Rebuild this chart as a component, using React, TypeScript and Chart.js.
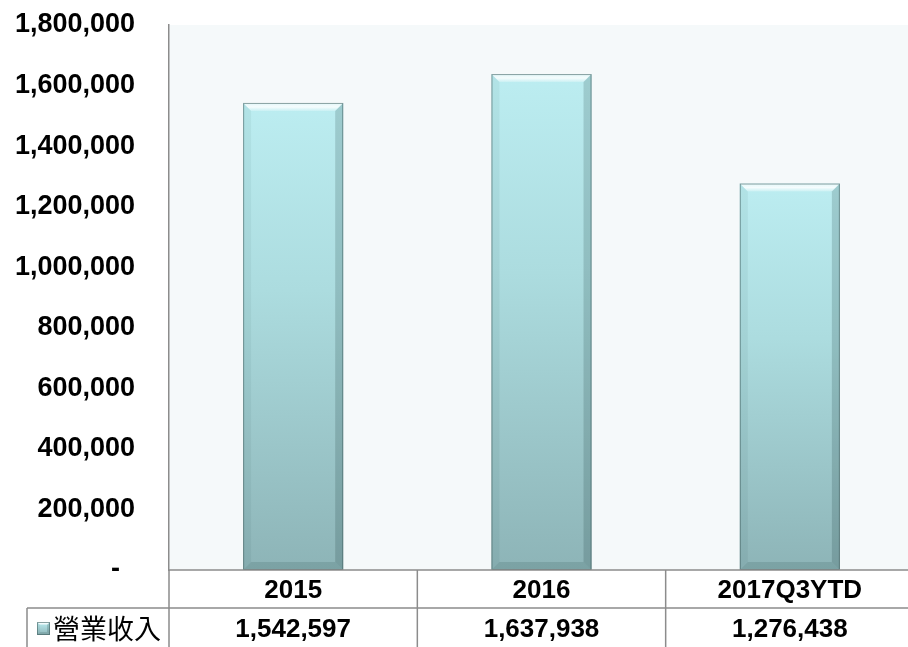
import React, { useEffect, useRef } from "react";
import { Chart, registerables } from "chart.js";

Chart.register(...registerables);

const categories = ["2015", "2016", "2017Q3YTD"];
const seriesName = "營業收入";
const revenue = [1542597, 1637938, 1276438];
const yTicks = [0, 200000, 400000, 600000, 800000, 1000000, 1200000, 1400000, 1600000, 1800000];

const fmt = (v: number) => (v === 0 ? "-  " : v.toLocaleString("en-US"));

const LINE = "#8c8c8c";
const LATIN = "'Liberation Sans', Arial, sans-serif";
const CJK = "'Noto Sans CJK TC', 'Noto Sans CJK SC', sans-serif";

function bevel(ctx: CanvasRenderingContext2D, l: number, t: number, r: number, b: number, e: number) {
  ctx.save();
  const tg = ctx.createLinearGradient(0, t, 0, t + e);
  tg.addColorStop(0, "rgba(255,255,255,0.55)");
  tg.addColorStop(0.5, "rgba(255,255,255,0.85)");
  tg.addColorStop(1, "rgba(255,255,255,0.2)");
  ctx.fillStyle = tg;
  ctx.beginPath();
  ctx.moveTo(l, t); ctx.lineTo(r, t); ctx.lineTo(r - e, t + e); ctx.lineTo(l + e, t + e); ctx.closePath(); ctx.fill();
  ctx.fillStyle = "rgba(0,40,40,0.05)";
  ctx.beginPath();
  ctx.moveTo(l, t); ctx.lineTo(l + e, t + e); ctx.lineTo(l + e, b - e); ctx.lineTo(l, b); ctx.closePath(); ctx.fill();
  ctx.fillStyle = "rgba(0,30,30,0.16)";
  ctx.beginPath();
  ctx.moveTo(r, t); ctx.lineTo(r - e, t + e); ctx.lineTo(r - e, b - e); ctx.lineTo(r, b); ctx.closePath(); ctx.fill();
  ctx.fillStyle = "rgba(0,30,30,0.12)";
  ctx.beginPath();
  ctx.moveTo(l, b); ctx.lineTo(l + e, b - e); ctx.lineTo(r - e, b - e); ctx.lineTo(r, b); ctx.closePath(); ctx.fill();
  ctx.strokeStyle = "rgba(60,90,90,0.55)";
  ctx.lineWidth = 1;
  ctx.strokeRect(l + 0.5, t + 0.5, r - l - 1, b - t - 1);
  ctx.restore();
}

const plotBg = {
  id: "plotBg",
  beforeDraw(chart: any) {
    const { ctx, chartArea } = chart;
    ctx.save();
    ctx.fillStyle = "#f5f9fa";
    ctx.fillRect(chartArea.left, chartArea.top, chartArea.right - chartArea.left + 10, chartArea.bottom - chartArea.top);
    ctx.restore();
  },
};

const barBevel = {
  id: "barBevel",
  afterDatasetsDraw(chart: any) {
    const ctx = chart.ctx as CanvasRenderingContext2D;
    const meta = chart.getDatasetMeta(0);
    meta.data.forEach((el: any) => {
      const l = el.x - el.width / 2;
      const r = el.x + el.width / 2;
      bevel(ctx, l, el.y, r, el.base, 8);
    });
  },
};

const dataTable = {
  id: "dataTable",
  afterDraw(chart: any) {
    const ctx = chart.ctx as CanvasRenderingContext2D;
    const { chartArea } = chart;
    const xs = chart.scales.x;
    const bottom = chartArea.bottom;
    const rowH = 38;
    const w = xs.width / categories.length;
    const H = chart.height;
    ctx.save();
    ctx.strokeStyle = LINE;
    ctx.lineWidth = 1.5;
    ctx.beginPath();
    ctx.moveTo(chartArea.left, bottom); ctx.lineTo(chart.width, bottom);
    ctx.moveTo(27, bottom + rowH); ctx.lineTo(chart.width, bottom + rowH);
    ctx.moveTo(27, bottom + rowH); ctx.lineTo(27, H);
    for (let i = 0; i <= categories.length; i++) {
      const x = chartArea.left + w * i;
      ctx.moveTo(x, bottom); ctx.lineTo(x, H);
    }
    ctx.stroke();

    ctx.fillStyle = "#000";
    ctx.textAlign = "center";
    ctx.textBaseline = "middle";
    ctx.font = `bold 26px ${LATIN}`;
    categories.forEach((c, i) => {
      const x = xs.getPixelForValue(i);
      ctx.fillText(c, x, bottom + 21);
      ctx.fillText(revenue[i].toLocaleString("en-US"), x, bottom + rowH + 22);
    });

    const kx = 37, ky = bottom + rowH + 14, ks = 13;
    const g = ctx.createLinearGradient(0, ky, 0, ky + ks);
    g.addColorStop(0, "#bdeef2");
    g.addColorStop(1, "#8db4b7");
    ctx.fillStyle = g;
    ctx.fillRect(kx, ky, ks, ks);
    bevel(ctx, kx, ky, kx + ks, ky + ks, 3);

    ctx.fillStyle = "#000";
    ctx.textAlign = "left";
    ctx.font = `27px ${CJK}`;
    ctx.fillText(seriesName, 53, bottom + rowH + 21);
    ctx.restore();
  },
};

export default function App() {
  const ref = useRef<HTMLCanvasElement | null>(null);
  useEffect(() => {
    if (!ref.current) return;
    const chart = new Chart(ref.current, {
      type: "bar",
      data: {
        labels: categories,
        datasets: [
          {
            label: seriesName,
            data: revenue,
            categoryPercentage: 1,
            barPercentage: 0.403,
            borderWidth: 0,
            backgroundColor: (c: any) => {
              const chart = c.chart;
              if (!chart.chartArea || c.raw == null) return "#a8d8dc";
              const y = chart.scales.y;
              const top = y.getPixelForValue(c.raw);
              const base = y.getPixelForValue(0);
              const g = chart.ctx.createLinearGradient(0, top, 0, base);
              g.addColorStop(0, "#bcedf1");
              g.addColorStop(0.4, "#acdcdf");
              g.addColorStop(1, "#8db4b7");
              return g;
            },
          },
        ],
      },
      options: {
        animation: false,
        responsive: true,
        maintainAspectRatio: false,
        layout: { padding: { top: 25, bottom: 77, left: 0, right: 2 } },
        plugins: { legend: { display: false }, tooltip: { enabled: false } },
        scales: {
          x: { display: false, offset: true },
          y: {
            min: 0,
            max: 1800000,
            afterFit: (s: any) => {
              s.width = 169;
              s.paddingTop = 0;
              s.paddingBottom = 0;
            },
            afterBuildTicks: (s: any) => {
              s.ticks = yTicks.map((v) => ({ value: v }));
            },
            grid: { display: false, drawTicks: false },
            border: { display: true, color: LINE, width: 1.5 },
            ticks: {
              padding: 34,
              color: "#000",
              font: { family: LATIN, size: 27, weight: "bold" },
              callback: (v: any) => fmt(Number(v)),
            },
          },
        },
      },
      plugins: [plotBg, barBevel, dataTable],
    });
    return () => chart.destroy();
  }, []);
  return (
    <div style={{ position: "fixed", left: 0, top: 0, width: 908, height: 647, overflow: "hidden", background: "#fff" }}>
      <div style={{ position: "relative", width: 916, height: 647 }}>
        <canvas ref={ref} />
      </div>
    </div>
  );
}
